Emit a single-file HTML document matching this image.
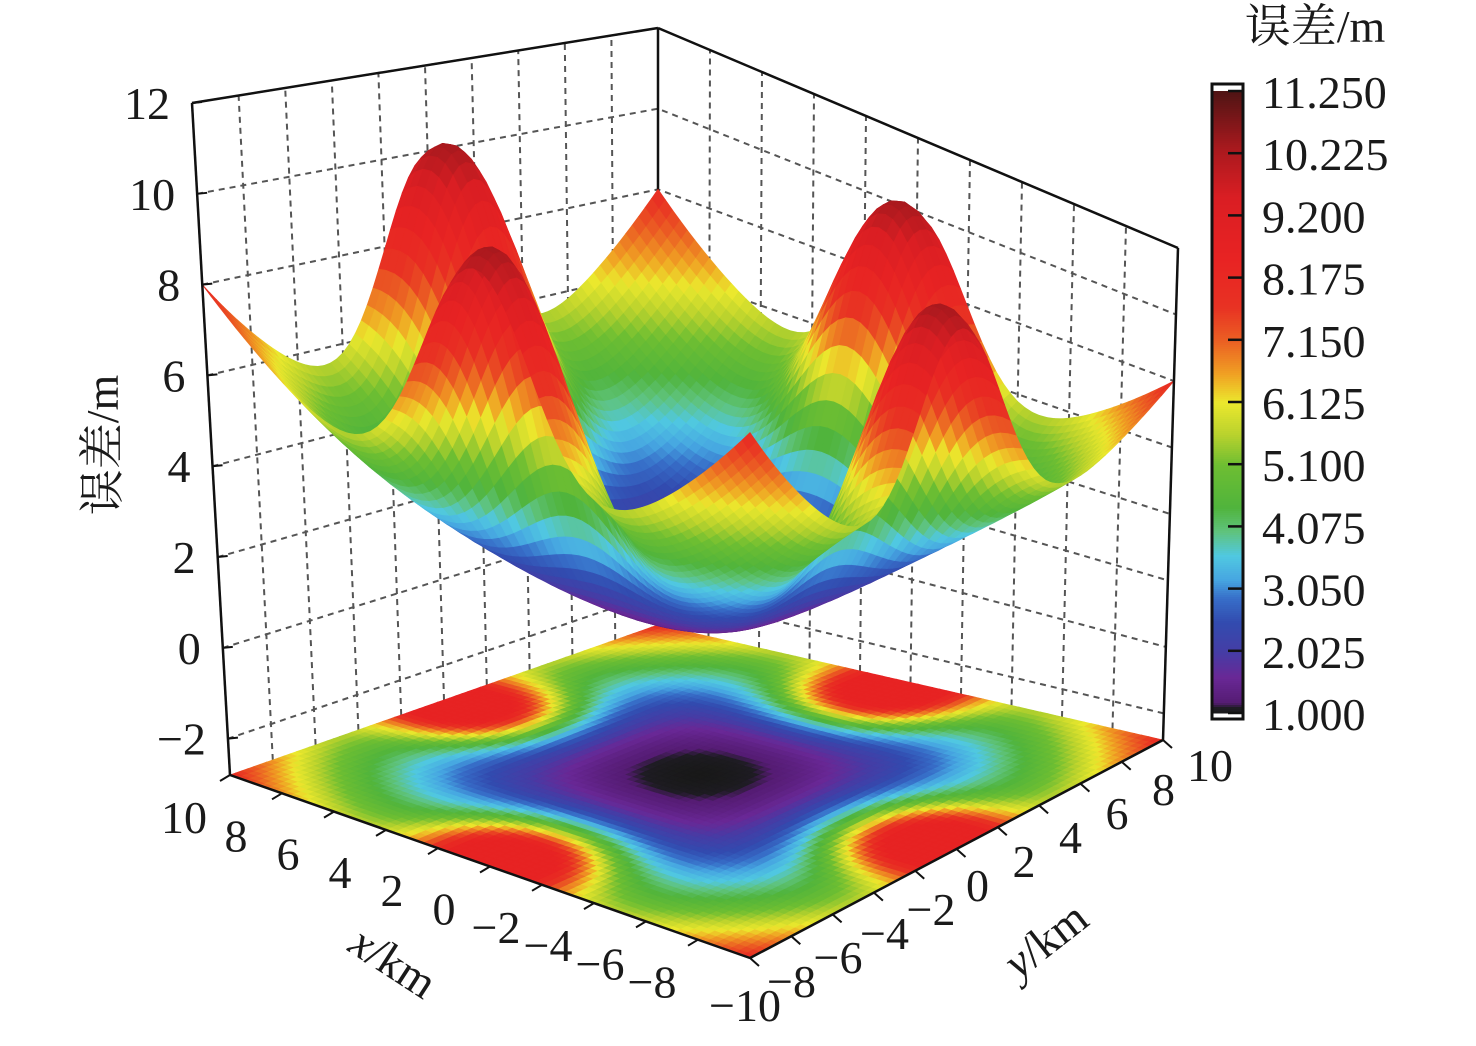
<!DOCTYPE html>
<html><head><meta charset="utf-8"><style>
html,body{margin:0;padding:0;background:#fff;}
svg text{font-family:"Liberation Serif","Noto Serif CJK SC",serif;fill:#1a1a1a;}
</style></head><body>
<svg id="chart" width="1476" height="1041" viewBox="0 0 1476 1041" xmlns="http://www.w3.org/2000/svg">
<g id="walls"></g>
<g id="floor"></g>
<g id="surface"></g>
<g id="axes"></g>
<g id="cbar"></g>
<text x="0" y="0" font-size="46" transform="translate(118,445) rotate(-90)" text-anchor="middle">误差/m</text>
<text x="0" y="0" font-size="46" font-style="italic" transform="translate(385,975) rotate(33)" text-anchor="middle">x<tspan font-style="normal">/km</tspan></text>
<text x="0" y="0" font-size="46" font-style="italic" transform="translate(1055,952) rotate(-38)" text-anchor="middle">y<tspan font-style="normal">/km</tspan></text>
<text x="1315" y="42" font-size="46" text-anchor="middle">误差/m</text>
</svg>
<script>
// ---- data ----
const peakX = [8.8, -8.8, 0, 0];
const peakY = [0, 0, 8.8, -8.8];
const peakHeight = [6.5, 6.5, 6.5, 6.5];
const peakSigma = [2.0, 2.0, 2.0, 2.0];
const bowlMin = [1.0];
const bowlCornerValue = [8.0];
const zTicks = [-2, 0, 2, 4, 6, 8, 10, 12];
const xTicks = [10, 8, 6, 4, 2, 0, -2, -4, -6, -8];
const yTicks = [-10, -8, -6, -4, -2, 0, 2, 4, 6, 8, 10];
const cbarTicks = ["11.250","10.225","9.200","8.175","7.150","6.125","5.100","4.075","3.050","2.025","1.000"];
const cbarMin = 1.0, cbarMax = 11.25;

const NS = "http://www.w3.org/2000/svg";
const ZF = -2.8, ZT = 12;
const fl = {L:[230,775],F:[750,958],R:[1163,740],B:[658,625]};
const tp = {L:[192,103],F:[750,238],R:[1178,248],B:[658,28]};
function bil(c,u,v,k){return (1-u)*(1-v)*c.L[k]+u*(1-v)*c.F[k]+u*v*c.R[k]+(1-u)*v*c.B[k];}
function P(x,y,z){const u=(10-x)/20,v=(y+10)/20,t=(z-ZF)/(ZT-ZF);
  const fx=bil(fl,u,v,0),fy=bil(fl,u,v,1),tx=bil(tp,u,v,0),ty=bil(tp,u,v,1);
  return [fx+t*(tx-fx),fy+t*(ty-fy)];}
function f(x,y){const r2=x*x+y*y;let v=bowlMin[0]+(bowlCornerValue[0]-bowlMin[0])*r2/200;
  for(let i=0;i<peakX.length;i++){const d=(x-peakX[i])**2+(y-peakY[i])**2;v+=peakHeight[i]*Math.exp(-d/(2*peakSigma[i]**2));}
  return v;}
const stops=[[1.0,[25,25,25]],[1.1,[30,28,35]],[1.18,[85,28,115]],[1.6,[105,40,150]],[2.0,[70,60,165]],[2.5,[50,75,175]],[2.9,[55,110,200]],[3.2,[70,165,225]],[3.6,[80,200,225]],[4.0,[95,195,125]],[4.4,[80,180,60]],[5.1,[110,190,50]],[5.6,[185,210,45]],[6.125,[235,232,45]],[6.6,[240,160,35]],[7.15,[235,95,35]],[7.7,[232,50,35]],[8.5,[232,35,35]],[9.5,[218,30,35]],[10.3,[170,25,30]],[11.25,[80,20,20]]];
function col(v){if(v<=stops[0][0])return "rgb(25,25,25)";
  for(let i=1;i<stops.length;i++){if(v<=stops[i][0]){const a=stops[i-1],b=stops[i],t=(v-a[0])/(b[0]-a[0]);
    return "rgb("+a[1].map((c,k)=>Math.round(c+t*(b[1][k]-c))).join(",")+")";}}
  return "rgb(80,20,20)";}
function el(tag,attrs,parent){const e=document.createElementNS(NS,tag);for(const k in attrs)e.setAttribute(k,attrs[k]);parent.appendChild(e);return e;}
const pts=a=>a.map(p=>p[0].toFixed(1)+","+p[1].toFixed(1)).join(" ");

// walls dashed grid
const walls=document.getElementById("walls");
for(let k=0;k<=10;k++){const s=-10+2*k;
  let a=P(10,s,ZF),b=P(10,s,ZT);
  let ln=el("line",{x1:a[0],y1:a[1],x2:b[0],y2:b[1],stroke:"#555","stroke-width":2,"stroke-dasharray":"6,5"},walls);
  
  
  a=P(s,10,ZF);b=P(s,10,ZT);
  ln=el("line",{x1:a[0],y1:a[1],x2:b[0],y2:b[1],stroke:"#555","stroke-width":2,"stroke-dasharray":"6,5"},walls);
  
  }
zTicks.forEach(z=>{const a=P(10,-10,z),b=P(10,10,z),c=P(-10,10,z);
  const ln=el("polyline",{points:pts([a,b,c]),fill:"none",stroke:"#555","stroke-width":2,"stroke-dasharray":"6,5"},walls);
  
  });
{const a=P(10,10,ZF),b=P(10,10,ZT);
 const l=el("line",{x1:a[0],y1:a[1],x2:b[0],y2:b[1],stroke:"#111","stroke-width":2.5},walls);
 
 }

// floor & surface
const N=70, h=20/N;
const floorG=document.getElementById("floor"), surfG=document.getElementById("surface");
const quads=[];
for(let i=0;i<N;i++)for(let j=0;j<N;j++){
  const x0=10-i*h,x1=10-(i+1)*h,y0=-10+j*h,y1=-10+(j+1)*h;
  const v=f((x0+x1)/2,(y0+y1)/2);
  const c=col(v);
  const fc=col(Math.min(v,8.6));
  const fp=[P(x0,y0,ZF),P(x1,y0,ZF),P(x1,y1,ZF),P(x0,y1,ZF)];
  const fq=el("polygon",{points:pts(fp),fill:fc,stroke:fc,"stroke-width":0.8},floorG);
  
  
  quads.push({d:(i+0.5)/N-(j+0.5)/N,p:[P(x0,y0,f(x0,y0)),P(x1,y0,f(x1,y0)),P(x1,y1,f(x1,y1)),P(x0,y1,f(x0,y1))],c:c});
}
quads.sort((a,b)=>a.d-b.d);
quads.forEach(q=>{const s=el("polygon",{points:pts(q.p),fill:q.c,stroke:q.c,"stroke-width":0.8},surfG);
  
  });

// axes
const ax=document.getElementById("axes");
const edges=[[P(10,-10,ZF),P(-10,-10,ZF)],[P(-10,-10,ZF),P(-10,10,ZF)],[P(10,-10,ZF),P(10,-10,ZT)],[P(-10,10,ZF),P(-10,10,ZT)],[P(10,-10,ZT),P(10,10,ZT)],[P(10,10,ZT),P(-10,10,ZT)]];
edges.forEach(e=>{const l=el("line",{x1:e[0][0],y1:e[0][1],x2:e[1][0],y2:e[1][1],stroke:"#111","stroke-width":2.5},ax);
  
  });
zTicks.forEach(z=>{const p=P(10,-10,z);
  const tk=el("line",{x1:p[0],y1:p[1],x2:p[0]+10,y2:p[1]-1,stroke:"#111","stroke-width":2},ax);
  
  
  const t=el("text",{x:p[0]-22,y:p[1]+16,"font-size":46,"text-anchor":"end"},ax);t.textContent=String(z).replace("-","−");
  
  });
xTicks.forEach(x=>{const p=P(x,-10,ZF);
  const tk=el("line",{x1:p[0],y1:p[1],x2:p[0]-10,y2:p[1]+6,stroke:"#111","stroke-width":2},ax);
  
  
  const t=el("text",{x:p[0]-46,y:p[1]+58,"font-size":46,"text-anchor":"middle"},ax);t.textContent=String(x).replace("-","−");
  
  });
yTicks.forEach(y=>{const p=P(-10,y,ZF),v=(y+10)/20;
  const tk=el("line",{x1:p[0],y1:p[1],x2:p[0]+9,y2:p[1]+8,stroke:"#111","stroke-width":2},ax);
  
  
  const t=el("text",{x:p[0]-5+52*v,y:p[1]+63-22*v,"font-size":46,"text-anchor":"middle"},ax);t.textContent=String(y).replace("-","−");
  
  });

// colorbar
const cb=document.getElementById("cbar");
const cy0=91,cy1=713;
for(let y=cy0;y<cy1;y+=2){const v=cbarMax-(y-cy0)/(cy1-cy0)*(cbarMax-cbarMin);
  const r=el("rect",{x:1213,y:y,width:29,height:2.5,fill:col(v)},cb);
  
  }
const fr=el("rect",{x:1212,y:84,width:31,height:635,fill:"none",stroke:"#111","stroke-width":3},cb);


cbarTicks.forEach((s,i)=>{const y=cy0+i*(cy1-cy0)/(cbarTicks.length-1);
  const tk=el("line",{x1:1228,y1:y,x2:1242,y2:y,stroke:"#111","stroke-width":2.5},cb);
  
  
  const t=el("text",{x:1262,y:y+17,"font-size":46},cb);t.textContent=s;
  
  });
</script>
</body></html>
